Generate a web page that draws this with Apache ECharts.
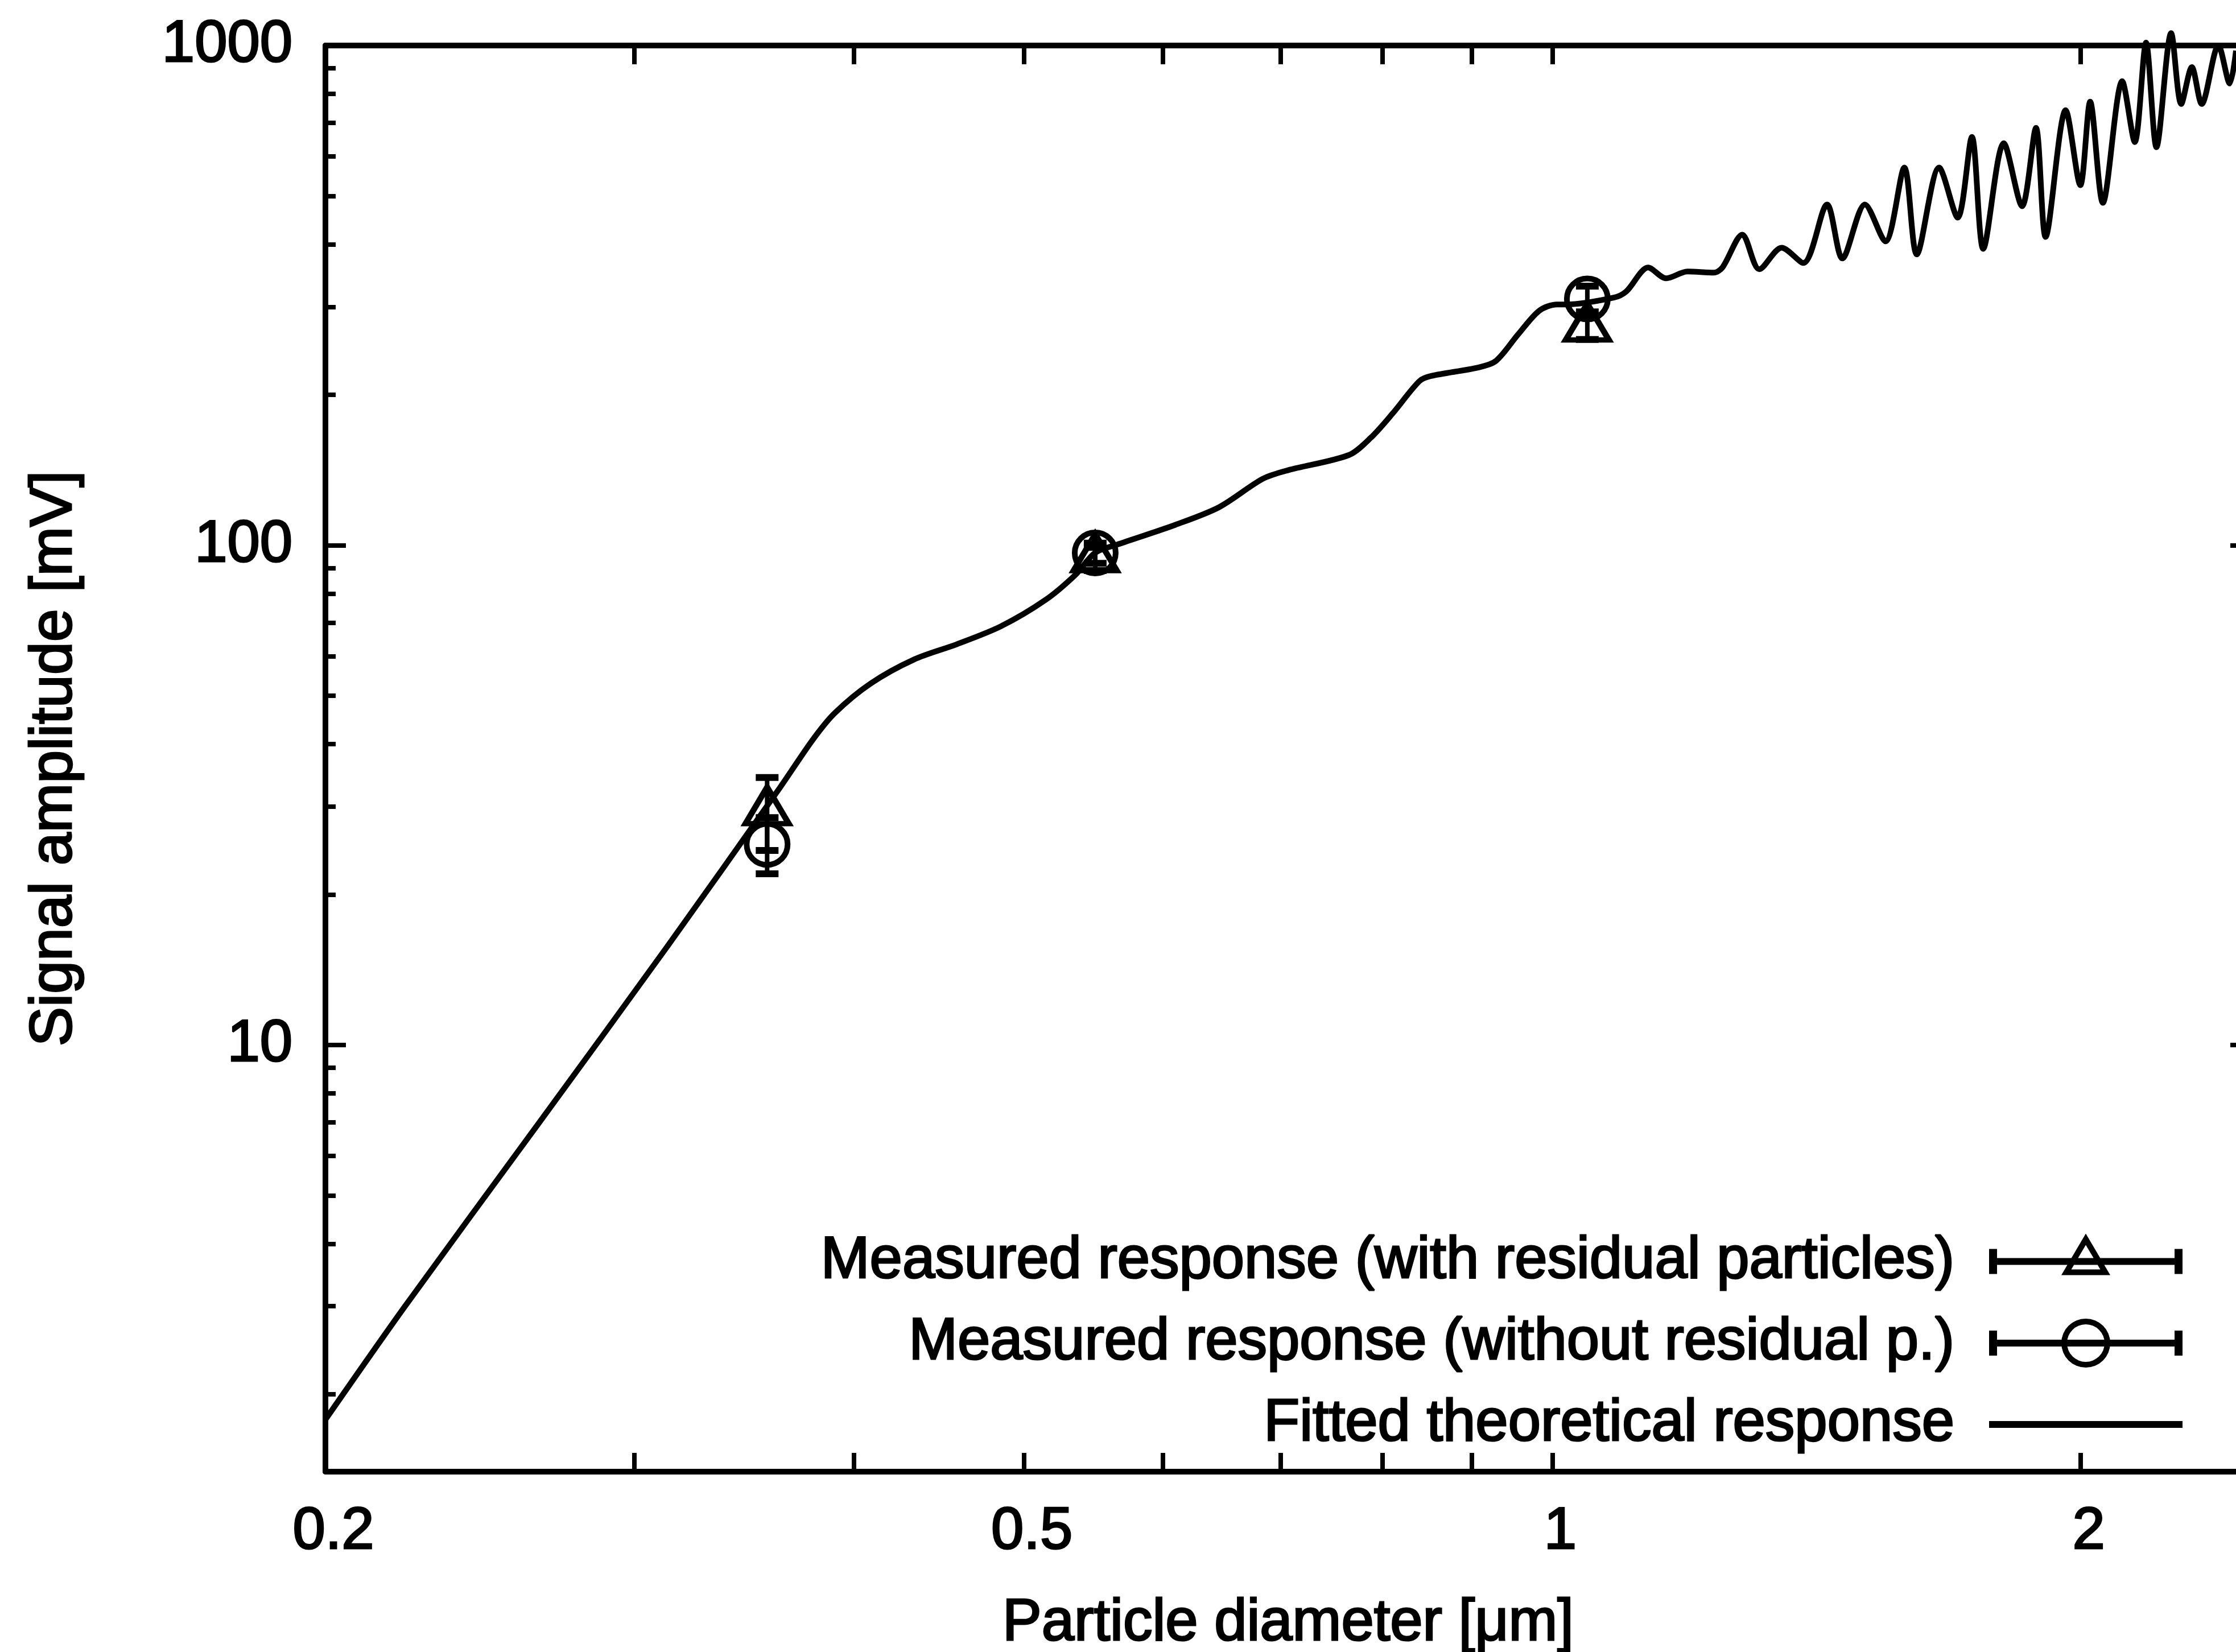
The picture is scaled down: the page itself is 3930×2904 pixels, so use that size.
<!DOCTYPE html>
<html>
<head>
<meta charset="utf-8">
<script src="https://cdn.jsdelivr.net/npm/echarts@6/dist/echarts.min.js"></script>
<style>
html,body{margin:0;padding:0;background:#fff;}
#chart{width:3930px;height:2904px;}
</style>
</head>
<body>
<div id="chart"></div>
<script>
// ---- data ----
const curveDiameter = [0.200, 0.222, 0.264, 0.313, 0.363, 0.379, 0.390, 0.409, 0.433, 0.458, 0.485, 0.514, 0.535, 0.549, 0.566, 0.610, 0.646, 0.684, 0.707, 0.766, 0.788, 0.811, 0.840, 0.853, 0.908, 0.929, 0.956, 0.983, 1.006, 1.018, 1.084, 1.102, 1.134, 1.161, 1.194, 1.236, 1.250, 1.283, 1.312, 1.351, 1.390, 1.434, 1.463, 1.507, 1.548, 1.587, 1.613, 1.661, 1.702, 1.734, 1.760, 1.808, 1.852, 1.886, 1.910, 1.961, 1.999, 2.025, 2.059, 2.112, 2.147, 2.179, 2.209, 2.252, 2.282, 2.314, 2.344, 2.396, 2.432, 2.452];
const curveAmplitude = [1.78, 3.0, 6.9, 15.7, 32.7, 40.8, 46.1, 52.9, 59.1, 63.4, 68.8, 77.6, 87.3, 96.6, 100.5, 109.9, 119.2, 135.8, 141.3, 151.6, 164.0, 183.5, 213.0, 218.1, 226.9, 234.0, 264.0, 294.6, 303.3, 303.3, 313.0, 322.1, 359.5, 342.0, 352.9, 351.1, 359.5, 418.4, 356.7, 393.9, 367.2, 480.7, 374.9, 480.7, 405.5, 569.8, 381.8, 569.8, 452.5, 656.2, 391.8, 637.6, 476.9, 684.4, 414.0, 742.3, 525.4, 771.9, 484.5, 848.1, 641.0, 1013, 626.1, 1059, 763.8, 905.3, 763.8, 1000, 839.3, 976.8];

const measDiameter = [0.357, 0.549, 1.047];
const withResidual = [29.3, 94.0, 272];
const withResidualLow = [24.5, 89.0, 258];
const withResidualHigh = [34.3, 99.0, 288];
const withoutResidual = [25.2, 96.5, 311];
const withoutResidualLow = [22.0, 92.0, 293];
const withoutResidualHigh = [28.5, 101.0, 330];

const xLabelValues = [0.2, 0.5, 1, 2];
const xTickValues = [0.3, 0.4, 0.5, 0.6, 0.7, 0.8, 0.9, 1, 2];
const yMajorValues = [10, 100, 1000];
const yMinorValues = [2, 3, 4, 5, 6, 7, 8, 9, 20, 30, 40, 50, 60, 70, 80, 90, 200, 300, 400, 500, 600, 700, 800, 900];

const nameWith = 'Measured response (with residual particles)';
const nameWithout = 'Measured response (without residual p.)';
const nameFit = 'Fitted theoretical response';

// ---- build ----
const FONT = 'Liberation Sans';
const TXT = {color: '#000', fontFamily: FONT, textBorderColor: '#000', textBorderWidth: 3};
const curveData = curveDiameter.map((d, i) => [d, curveAmplitude[i]]);
const withData = measDiameter.map((d, i) => [d, withResidual[i]]);
const withoutData = measDiameter.map((d, i) => [d, withoutResidual[i]]);
const withErr = measDiameter.map((d, i) => [d, withResidualLow[i], withResidualHigh[i]]);
const withoutErr = measDiameter.map((d, i) => [d, withoutResidualLow[i], withoutResidualHigh[i]]);

function errRender(params, api) {
  const x = api.value(0), lo = api.value(1), hi = api.value(2);
  const a = api.coord([x, lo]), b = api.coord([x, hi]);
  const hw = 20;
  return {type: 'group', children: [
    {type: 'line', shape: {x1: a[0], y1: a[1], x2: b[0], y2: b[1]}, style: {stroke: '#000', lineWidth: 8}},
    {type: 'line', shape: {x1: a[0] - hw, y1: a[1], x2: a[0] + hw, y2: a[1]}, style: {stroke: '#000', lineWidth: 12}},
    {type: 'line', shape: {x1: b[0] - hw, y1: b[1], x2: b[0] + hw, y2: b[1]}, style: {stroke: '#000', lineWidth: 12}}
  ]};
}

const iconTri = 'path://M0,-6 L340,-6 L340,6 L0,6 Z M0,-22 L14,-22 L14,22 L0,22 Z M326,-22 L340,-22 L340,22 L326,22 Z ' +
  'M170,-49 L213,24 L127,24 Z M170,-29 L144.5,14 L195.5,14 Z M170,50 L170,50';
const iconCirc = 'path://M0,-6 L340,-6 L340,6 L0,6 Z M0,-22 L14,-22 L14,22 L0,22 Z M326,-22 L340,-22 L340,22 L326,22 Z ' +
  'M127,0 A43,43 0 1,1 213,0 A43,43 0 1,1 127,0 Z M137,0 A33,33 0 1,0 203,0 A33,33 0 1,0 137,0 Z M170,-50 L170,-50 M170,50 L170,50';
const iconLine = 'path://M0,-6 L340,-6 L340,6 L0,6 Z M0,-50 L0,-50 M0,50 L0,50';

const XMIN = 0.2, XMAX = 2.5, YMIN = 1.4, YMAX = 1000;

function xAxisCfg(pos, labels) {
  return {
    type: 'log', logBase: 10, min: XMIN, max: XMAX, position: pos,
    name: labels ? 'Particle diameter [μm]' : '',
    nameLocation: 'middle', nameGap: 216,
    nameTextStyle: Object.assign({fontSize: 103}, TXT),
    axisLine: {show: true, onZero: false, lineStyle: {color: '#000', width: 10}},
    axisTick: {show: true, inside: true, length: 33, lineStyle: {color: '#000', width: 8}, customValues: xTickValues},
    axisLabel: Object.assign({show: labels, fontSize: 103, margin: 55, padding: [0, 0, 0, 28],
      customValues: xLabelValues, formatter: v => String(Math.round(v * 10) / 10)}, TXT),
    splitLine: {show: false}, minorTick: {show: false}
  };
}
function yAxisCfg(pos, major, showLine, labels) {
  return {
    type: 'log', logBase: 10, min: YMIN, max: YMAX, position: pos,
    name: labels ? 'Signal amplitude [mV]' : '',
    nameLocation: 'middle', nameGap: 424, nameRotate: 90,
    nameTextStyle: Object.assign({fontSize: 104}, TXT),
    axisLine: {show: showLine, onZero: false, lineStyle: {color: '#000', width: 10}},
    axisTick: {show: true, inside: true, length: major ? 36 : 18, lineStyle: {color: '#000', width: 8},
      customValues: major ? yMajorValues : yMinorValues},
    axisLabel: Object.assign({show: labels, fontSize: 103, margin: 58,
      customValues: yMajorValues, formatter: v => String(Math.round(v))}, TXT),
    splitLine: {show: false}, minorTick: {show: false}
  };
}

const chart = echarts.init(document.getElementById('chart'), null, {renderer: 'canvas'});
chart.setOption({
  animation: false,
  backgroundColor: '#fff',
  textStyle: {fontFamily: FONT},
  grid: {left: 572, top: 80, right: -26, bottom: 317, containLabel: false, outerBoundsMode: 'none'},
  xAxis: [xAxisCfg('bottom', true), xAxisCfg('top', false)],
  yAxis: [yAxisCfg('left', true, true, true), yAxisCfg('left', false, false, false),
          yAxisCfg('right', true, true, false), yAxisCfg('right', false, false, false)],
  legend: {
    orient: 'vertical', align: 'right', right: 89, top: 2160,
    itemWidth: 340, itemHeight: 100, itemGap: 37,
    textStyle: Object.assign({fontSize: 103, padding: [0, 56, 0, 0]}, TXT),
    selectedMode: false,
    data: [
      {name: nameWith, icon: iconTri, itemStyle: {color: '#000', borderWidth: 0, opacity: 1}},
      {name: nameWithout, icon: iconCirc, itemStyle: {color: '#000', borderWidth: 0, opacity: 1}},
      {name: nameFit, icon: iconLine, itemStyle: {color: '#000', borderWidth: 0, opacity: 1}}
    ]
  },
  series: [
    {name: nameFit, type: 'line', data: curveData, showSymbol: false, smooth: 0.3, clip: false,
     color: '#000', lineStyle: {color: '#000', width: 10}, z: 2},
    {name: nameWith, type: 'custom', data: withErr, renderItem: errRender, color: '#000',
     encode: {x: 0, y: [1, 2]}, z: 3},
    {name: nameWithout, type: 'custom', data: withoutErr, renderItem: errRender, color: '#000',
     encode: {x: 0, y: [1, 2]}, z: 3},
    {name: nameWith, type: 'scatter', data: withData, symbol: 'triangle', symbolSize: [76, 64], symbolOffset: [0, -11],
     itemStyle: {color: 'rgba(0,0,0,0)', borderColor: '#000', borderWidth: 10, opacity: 1}, z: 4},
    {name: nameWithout, type: 'scatter', data: withoutData, symbol: 'circle', symbolSize: 72,
     itemStyle: {color: 'rgba(0,0,0,0)', borderColor: '#000', borderWidth: 10, opacity: 1}, z: 4}
  ]
});
</script>
</body>
</html>
